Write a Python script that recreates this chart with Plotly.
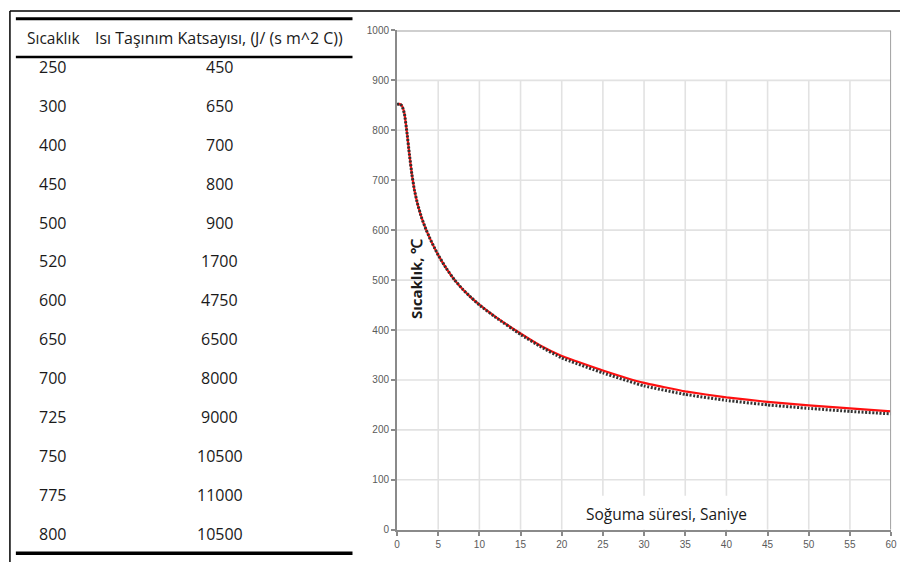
import plotly.graph_objects as go

# ---------------- data ----------------
table_header = ["Sıcaklık", "Isı Taşınım Katsayısı, (J/ (s m^2 C))"]
table_temp = [250, 300, 400, 450, 500, 520, 600, 650, 700, 725, 750, 775, 800]
table_htc = [450, 650, 700, 800, 900, 1700, 4750, 6500, 8000, 9000, 10500, 11000, 10500]

time_s = [0, 0.3, 0.6, 0.9, 1.2, 1.5, 1.8, 2.1, 2.5, 3.0, 3.5, 4.0, 4.5, 5.0, 6.0, 7.0, 8.0,
          9.0, 10, 12, 15, 17.5, 20, 25, 30, 35, 40, 45, 50, 55, 60]
temp_model = [852, 853, 849, 833, 796, 752, 712, 681, 652, 624, 602, 583, 566, 550, 523, 500, 481,
              465, 451, 426, 393, 368, 348, 319, 294, 277, 265, 256, 249, 243, 237]
temp_exp = [852, 853, 849, 833, 796, 752, 712, 681, 652, 624, 602, 583, 566, 550, 523, 500, 481,
            465, 450, 425, 391, 366, 344, 314, 288, 271, 259, 250, 243, 237, 232]

x_ticks = list(range(0, 61, 5))
y_ticks = list(range(0, 1001, 100))

W, H = 906, 568


def px(x):
    return x / W


def py(y):
    return 1 - y / H


fig = go.Figure()
fig.add_trace(go.Scatter(x=time_s, y=temp_model, mode="lines",
                         line=dict(color="#ff1010", width=2.2, shape="spline", smoothing=0.3),
                         showlegend=False, hoverinfo="skip"))
fig.add_trace(go.Scatter(x=time_s, y=temp_exp, mode="lines",
                         line=dict(color="#333333", width=3, dash="2px,1.6px", shape="spline", smoothing=0.3),
                         showlegend=False, hoverinfo="skip"))

shapes = []
# gridlines (vertical ones stop at 900)
for v in y_ticks[1:-1]:
    shapes.append(dict(type="line", xref="x", yref="y", x0=0, x1=60, y0=v, y1=v,
                       line=dict(color="#e2e2e2", width=1.6), layer="below"))
for v in x_ticks[1:-1]:
    shapes.append(dict(type="line", xref="x", yref="y", x0=v, x1=v, y0=0, y1=900,
                       line=dict(color="#e2e2e2", width=1.6), layer="below"))
# white box behind x label
shapes.append(dict(type="rect", xref="x", yref="y", x0=21.4, x1=44.0, y0=1, y1=68,
                   fillcolor="white", line=dict(width=0), layer="below"))
# plot border top/right
shapes.append(dict(type="line", xref="x", yref="y", x0=0, x1=60, y0=1000, y1=1000,
                   line=dict(color="#a0a0a0", width=2)))
shapes.append(dict(type="line", xref="x", yref="y", x0=60, x1=60, y0=0, y1=1000,
                   line=dict(color="#a0a0a0", width=2)))

# table rules
for yy, w in [(13, 3), (52, 2.5), (559, 3.5)]:
    shapes.append(dict(type="line", xref="paper", yref="paper", x0=px(13), x1=px(353),
                       y0=py(yy), y1=py(yy), line=dict(color="black", width=w)))
# outer frame lines
shapes.append(dict(type="line", xref="paper", yref="paper", x0=px(7), x1=1, y0=py(5), y1=py(5),
                   line=dict(color="black", width=1.5)))
shapes.append(dict(type="line", xref="paper", yref="paper", x0=px(7), x1=px(7), y0=py(5), y1=0,
                   line=dict(color="black", width=1.5)))

annotations = []
tfont = dict(family="Open Sans", size=16, color="#1a1a1a")
annotations.append(dict(text=table_header[0], x=px(51), y=py(33), xref="paper", yref="paper",
                        showarrow=False, xanchor="center", yanchor="middle",
                        font=dict(family="Open Sans", size=15.5, color="#1a1a1a")))
annotations.append(dict(text=table_header[1], x=px(218), y=py(33), xref="paper", yref="paper",
                        showarrow=False, xanchor="center", yanchor="middle",
                        font=dict(family="Open Sans", size=16, color="#1a1a1a")))
for i, (t, h) in enumerate(zip(table_temp, table_htc)):
    yy = 62 + i * 39.8
    annotations.append(dict(text=str(t), x=px(50), y=py(yy), xref="paper", yref="paper",
                            showarrow=False, xanchor="center", yanchor="middle", font=tfont))
    annotations.append(dict(text=str(h), x=px(219), y=py(yy), xref="paper", yref="paper",
                            showarrow=False, xanchor="center", yanchor="middle", font=tfont))

annotations.append(dict(text="Soğuma süresi, Saniye", x=32.7, y=31, xref="x", yref="y",
                        showarrow=False, xanchor="center", yanchor="middle",
                        font=dict(family="Open Sans", size=15.5, color="#1a1a1a")))
annotations.append(dict(text="<b>Sıcaklık, ℃</b>", x=2.3, y=504, xref="x", yref="y",
                        showarrow=False, textangle=-90, xanchor="center", yanchor="middle",
                        font=dict(family="Open Sans", size=15, color="#1a1a1a")))

axfont = dict(family="Liberation Sans", size=10, color="#5a5a5a")
fig.update_layout(
    width=W, height=H, margin=dict(l=0, r=0, t=0, b=0),
    paper_bgcolor="white", plot_bgcolor="white",
    shapes=shapes, annotations=annotations, showlegend=False,
    xaxis=dict(domain=[398 / W, 897 / W], range=[0, 60], tickvals=x_ticks, showgrid=False,
               zeroline=False, showline=True, linecolor="#8a8a8a", linewidth=2,
               ticks="outside", ticklen=4, tickcolor="#8a8a8a", tickwidth=1.5, tickfont=axfont),
    yaxis=dict(domain=[(H - 535) / H, (H - 25) / H], range=[0, 1000], tickvals=y_ticks,
               showgrid=False, zeroline=False, showline=True, linecolor="#8a8a8a", linewidth=2,
               ticks="outside", ticklen=4, tickcolor="#8a8a8a", tickwidth=1.5, tickfont=axfont),
)

fig.write_html("out.html")
